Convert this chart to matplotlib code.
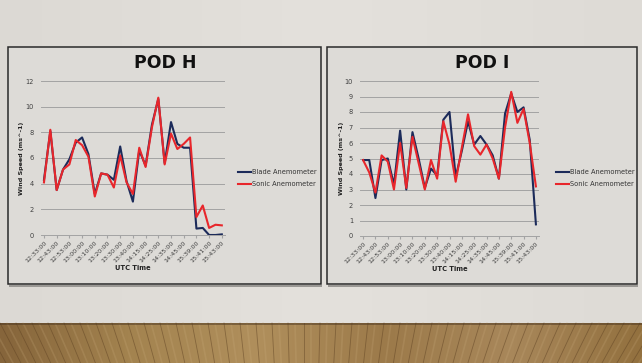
import matplotlib.pyplot as plt
import numpy as np
from matplotlib.colors import LinearSegmentedColormap
from matplotlib.patches import Rectangle

W, H = 642, 363

# UTC time categories (every other one is labelled on the axis)
times = [
    "12:33:00", "12:38:00", "12:43:00", "12:48:00", "12:53:00", "12:57:00",
    "13:00:00", "13:05:00", "13:10:00", "13:15:00", "13:20:00", "13:25:00",
    "13:30:00", "13:35:00", "13:40:00", "13:45:00", "14:15:00", "14:20:00",
    "14:25:00", "14:30:00", "14:35:00", "14:40:00", "14:45:00", "14:50:00",
    "15:39:00", "15:40:00", "15:41:00", "15:42:00", "15:43:00",
]

pod_h_blade = [4.3, 8.1, 3.5, 5.1, 5.9, 7.2, 7.6, 6.3, 3.2, 4.8, 4.7, 4.3, 6.9, 4.2, 2.6,
               6.6, 5.4, 8.6, 10.6, 5.6, 8.8, 7.1, 6.8, 6.8, 0.5, 0.55, 0.0, 0.0, 0.05]
pod_h_sonic = [4.1, 8.2, 3.5, 5.1, 5.5, 7.4, 7.0, 6.1, 3.0, 4.8, 4.7, 3.7, 6.2, 4.1, 3.2,
               6.8, 5.3, 8.4, 10.7, 5.5, 7.9, 6.7, 7.1, 7.6, 1.4, 2.3, 0.55, 0.8, 0.75]

pod_i_blade = [4.9, 4.9, 2.45, 4.9, 5.0, 3.3, 6.8, 3.0, 6.7, 5.0, 3.1, 4.35, 3.9, 7.5, 8.0,
               3.8, 5.5, 7.4, 5.9, 6.45, 5.9, 5.2, 3.7, 7.9, 9.2, 8.0, 8.3, 6.2, 0.75]
pod_i_sonic = [4.9, 4.1, 2.8, 5.2, 4.8, 3.0, 6.0, 3.1, 6.4, 4.7, 3.0, 4.9, 3.7, 7.4, 5.9,
               3.5, 5.7, 7.85, 5.8, 5.25, 5.9, 5.0, 3.7, 7.0, 9.3, 7.3, 8.2, 6.0, 3.2]

BLUE = "#1c2b5a"
RED = "#e8262b"
TXT = "#404040"


def fx(px):
    return px / W


def fy(py):
    return 1 - py / H


fig = plt.figure(figsize=(W / 100, H / 100), dpi=100)
fig.patch.set_facecolor("#e1ded9")

# background: wall + wooden floor
bg = fig.add_axes([0, 0, 1, 1], zorder=-10)
bg.axis("off")
grad = np.linspace(0, 1, 200).reshape(1, -1)
bg.imshow(grad, extent=(0, W, 323, 0), aspect="auto",
          cmap=LinearSegmentedColormap.from_list("wall", ["#dcd9d4", "#e4e1dc", "#dedbd6"]))
bg.imshow(grad, extent=(0, W, H, 323), aspect="auto",
          cmap=LinearSegmentedColormap.from_list(
              "floor", ["#86653b", "#a3834f", "#b08f5c", "#9c7a4a", "#a8875a", "#93713f"]))
for i in range(-4, 42):
    x0 = i * 16
    slant = (i - 19) * 1.1
    bg.plot([x0, x0 - slant], [323, H], color="#5e4122", lw=0.6, alpha=0.5)
    bg.plot([x0 + 7, x0 + 7 - slant], [323, H], color="#d0b283", lw=1.2, alpha=0.2)
bg.plot([0, W], [323.5, 323.5], color="#4a3520", lw=1.2, alpha=0.6)
bg.set_xlim(0, W)
bg.set_ylim(H, 0)

# panels
for x0, x1 in [(8, 321), (327, 637)]:
    bg.add_patch(Rectangle((x0 + 1, 285), x1 - x0, 1.5, color="#9a9894", lw=0))
    bg.add_patch(Rectangle((x0, 47), x1 - x0, 237, facecolor="#dddbd7",
                           edgecolor="#2a2a2a", lw=1.1))


def draw(rect, title, title_x, blade, sonic, ymax, ystep, ylab_x, legend_x):
    l, t, r, b = rect
    ax = fig.add_axes([fx(l), fy(b), fx(r - l), (b - t) / H])
    ax.set_facecolor("none")
    x = np.arange(len(times))
    ax.plot(x, blade, color=BLUE, lw=1.5, label="Blade Anemometer", zorder=3)
    ax.plot(x, sonic, color=RED, lw=1.5, label="Sonic Anemometer", zorder=4)
    ax.set_xlim(-0.5, len(times) - 0.5)
    ax.set_ylim(0, ymax)
    ax.set_yticks(np.arange(0, ymax + 0.01, ystep))
    ax.yaxis.grid(True, color="#a3a3a3", lw=0.7)
    ax.set_axisbelow(True)
    for s in ["top", "right", "left"]:
        ax.spines[s].set_visible(False)
    ax.spines["bottom"].set_color("#a3a3a3")
    ax.spines["bottom"].set_linewidth(0.7)
    ax.set_xticks(x[::2])
    ax.set_xticklabels(times[::2], rotation=45, ha="right", rotation_mode="anchor",
                       fontsize=4.6, color=TXT)
    ax.tick_params(axis="x", length=2, color="#a3a3a3", pad=1.5)
    ax.tick_params(axis="y", length=0, labelsize=4.8, labelcolor=TXT, pad=5)
    fig.text(fx(title_x), fy(63), title, ha="center", va="center",
             fontsize=12.5, fontweight="bold", color="#111111")
    fig.text(fx((l + r) / 2), fy(b + 33), "UTC Time", ha="center", va="center",
             fontsize=4.8, fontweight="bold", color="#222222")
    fig.text(fx(ylab_x), fy((t + b) / 2), "Wind Speed (ms^-1)", ha="center", va="center",
             rotation=90, fontsize=4.6, fontweight="bold", color="#222222")
    fig.legend(handles=ax.get_lines(), loc="center left",
               bbox_to_anchor=(fx(legend_x), fy(178)), frameon=False,
               fontsize=4.8, handlelength=2.0, handletextpad=0.1,
               labelspacing=0.9, labelcolor="#333333")


draw((40.8, 81, 225, 235), "POD H", 165, pod_h_blade, pod_h_sonic, 12, 2, 22, 232)
draw((360, 81, 539, 236), "POD I", 482, pod_i_blade, pod_i_sonic, 10, 1, 341, 550)

fig.savefig("out.png", dpi=100, facecolor=fig.get_facecolor())
